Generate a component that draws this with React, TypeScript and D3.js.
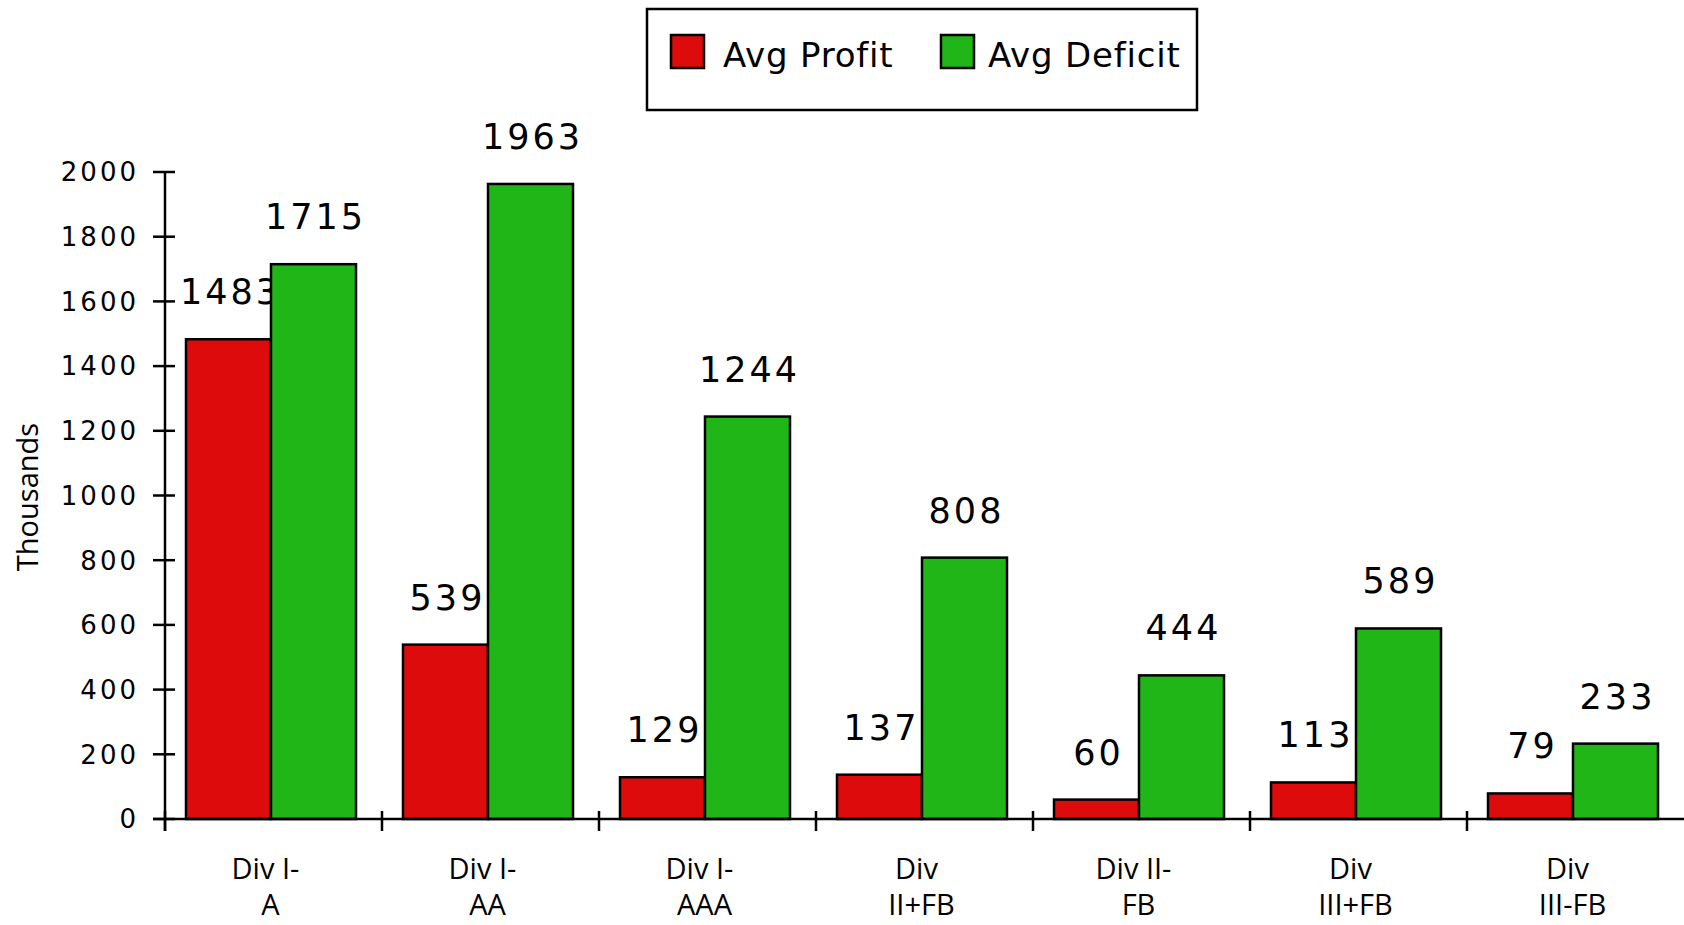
import React from 'react';
import * as d3 from 'd3';

const categories = [
  ['Div I-', 'A'],
  ['Div I-', 'AA'],
  ['Div I-', 'AAA'],
  ['Div', 'II+FB'],
  ['Div II-', 'FB'],
  ['Div', 'III+FB'],
  ['Div', 'III-FB'],
];
const avgProfit = [1483, 539, 129, 137, 60, 113, 79];
const avgDeficit = [1715, 1963, 1244, 808, 444, 589, 233];
const yTicks = [0, 200, 400, 600, 800, 1000, 1200, 1400, 1600, 1800, 2000];
const seriesNames = ['Avg Profit', 'Avg Deficit'];
const seriesColors = ['#dd0b0b', '#20b618'];

const W = 1684;
const H = 925;
const numFont = '"DejaVu Sans", Verdana, sans-serif';
const labelFont = '"Open Sans", "Noto Sans", sans-serif';

export default function App() {
  const x = d3.scaleBand<number>()
    .domain(d3.range(categories.length))
    .range([165, 1684]);
  // two bars inside each category, not centred (more room on the right)
  const inner = d3.scaleBand<number>()
    .domain([0, 1])
    .range([21, 191]);
  const y = d3.scaleLinear().domain([0, 2000]).range([819, 172]);

  const series = [avgProfit, avgDeficit];

  return (
    <svg width={W} height={H} style={{ position: 'absolute', left: 0, top: 0, background: '#fff' }}>
      {/* legend */}
      <rect x={647} y={9} width={550} height={101} fill="#fff" stroke="#000" strokeWidth={2.5} />
      {seriesNames.map((name, i) => {
        const lx = i === 0 ? 671 : 941;
        return (
          <g key={name}>
            <rect x={lx} y={35} width={33} height={33} fill={seriesColors[i]} stroke="#000" strokeWidth={2.5} />
            <text x={lx + (i === 0 ? 52 : 47)} y={67} fontFamily={numFont} fontSize={34} letterSpacing={0.8} fill="#000">{name}</text>
          </g>
        );
      })}

      {/* bars */}
      {categories.map((c, ci) => (
        <g key={ci} transform={`translate(${x(ci)},0)`}>
          {series.map((vals, si) => {
            const bx = inner(si)!;
            const bw = inner.bandwidth();
            const top = y(vals[ci]);
            return (
              <g key={si}>
                <rect x={bx} y={top} width={bw} height={y(0) - top} fill={seriesColors[si]} stroke="#000" strokeWidth={2.5} />
                <text x={bx + bw / 2 + 2} y={top - 35} textAnchor="middle" fontFamily={numFont} fontSize={35} letterSpacing={3} fill="#000">{vals[ci]}</text>
              </g>
            );
          })}
        </g>
      ))}

      {/* y axis */}
      <line x1={165} x2={165} y1={y(2000)} y2={831} stroke="#000" strokeWidth={2.5} />
      {yTicks.map(t => (
        <g key={t}>
          <line x1={153} x2={175} y1={y(t)} y2={y(t)} stroke="#000" strokeWidth={2.5} />
          <text x={139} y={y(t)} dy="0.36em" textAnchor="end" fontFamily={numFont} fontSize={26} letterSpacing={3} fill="#000">{t}</text>
        </g>
      ))}
      <text transform="translate(26,497) rotate(-90)" textAnchor="middle" dominantBaseline="central" fontFamily={labelFont} fontSize={29} fill="#000">Thousands</text>

      {/* x axis */}
      <line x1={153} x2={W} y1={y(0)} y2={y(0)} stroke="#000" strokeWidth={2.5} />
      {categories.map((c, ci) => (
        <g key={ci}>
          <line x1={x(ci)!} x2={x(ci)!} y1={811} y2={831} stroke="#000" strokeWidth={2.5} />
          {c.map((line, li) => (
            <text key={li} x={x(ci)! + x.bandwidth() / 2 + (li === 0 ? -8 : -3)} y={879 + li * 36} textAnchor="middle" fontFamily={labelFont} fontSize={29} fill="#000">{line}</text>
          ))}
        </g>
      ))}
    </svg>
  );
}
